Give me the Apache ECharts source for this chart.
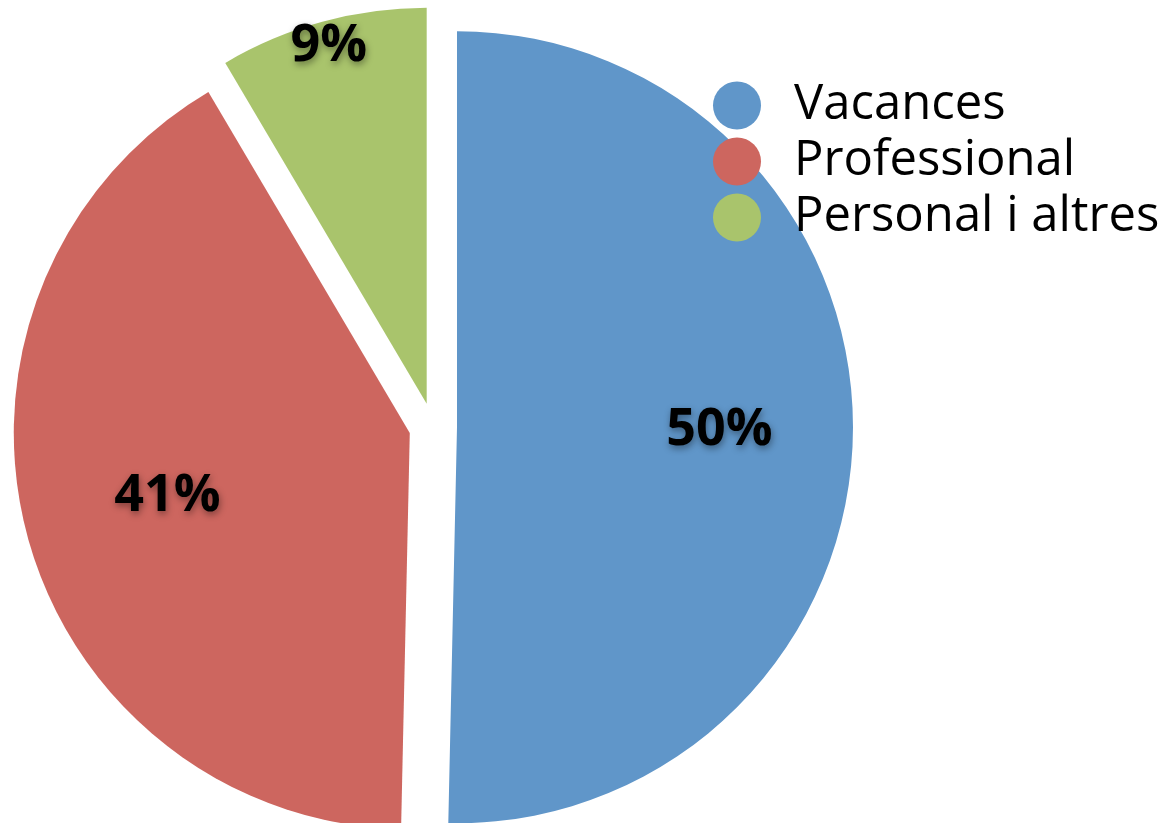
<!DOCTYPE html>
<html>
<head>
<meta charset="utf-8">
<title>Motiu del viatge</title>
<script src="https://cdn.jsdelivr.net/npm/echarts@6/dist/echarts.min.js"></script>
<style>
    html, body { margin: 0; padding: 0; background: #fff; }
    #chart { width: 1169px; height: 823px; }
</style>
</head>
<body>
<div id="chart"></div>
<script>
    // dades llegides de la imatge
    var categories = ['Vacances', 'Professional', 'Personal i altres'];
    var values = [50.4, 41.2, 8.5];
    var colors = ['#6096c9', '#cd665f', '#a9c46c'];

    // posicio de cada etiqueta (fraccio del radi des del centre)
    var labelRadius = [0.655, 0.625, 0.93];
    var R = 396;

    var total = values.reduce(function (a, b) { return a + b; }, 0);
    var midAngles = [];
    var acc = 0;
    for (var i = 0; i < values.length; i++) {
        var a = values[i] / total * 360;
        midAngles.push((acc + a / 2) * Math.PI / 180);
        acc += a;
    }

    var data = categories.map(function (name, i) {
        return { name: name, value: values[i], selected: true, itemStyle: { color: colors[i] } };
    });

    var chartDom = document.getElementById('chart');
    var myChart = echarts.init(chartDom);
    var option = {
        animation: false,
        legend: {
            orient: 'vertical',
            left: 708,
            top: 76,
            icon: 'circle',
            itemWidth: 104,
            itemHeight: 48,
            itemGap: 7,
            selectedMode: false,
            textStyle: {
                color: '#000',
                fontFamily: 'Open Sans',
                fontSize: 49,
                lineHeight: 48
            },
            data: categories
        },
        series: [
            {
                name: 'Motiu',
                type: 'pie',
                center: [433, 427],
                radius: [0, R],
                startAngle: 90,
                clockwise: true,
                selectedMode: 'multiple',
                selectedOffset: 24,
                percentPrecision: 0,
                emphasis: { disabled: true },
                select: { itemStyle: { borderWidth: 0 } },
                itemStyle: { borderWidth: 0 },
                label: {
                    show: true,
                    position: 'inside',
                    formatter: '{d}%',
                    color: '#000',
                    fontFamily: 'Open Sans',
                    fontWeight: 'bold',
                    fontSize: 52,
                    textShadowColor: 'rgba(0,0,0,0.4)',
                    textShadowBlur: 7,
                    textShadowOffsetX: 1,
                    textShadowOffsetY: 3
                },
                labelLine: { show: false },
                labelLayout: function (params) {
                    var i = params.dataIndex;
                    var d = (labelRadius[i] - 0.5) * R;
                    return {
                        dx: d * Math.sin(midAngles[i]),
                        dy: -d * Math.cos(midAngles[i])
                    };
                },
                data: data
            }
        ]
    };
    myChart.setOption(option);
</script>
</body>
</html>
